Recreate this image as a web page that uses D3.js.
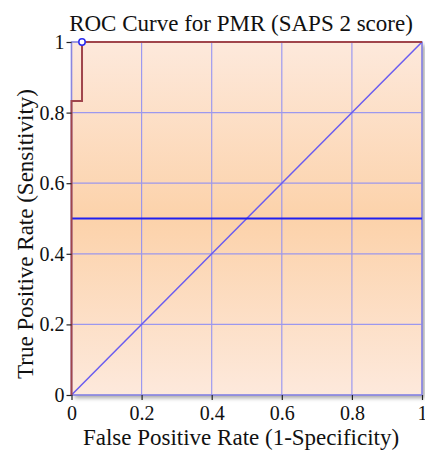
<!DOCTYPE html>
<html>
<head>
<meta charset="utf-8">
<script src="https://cdn.jsdelivr.net/npm/d3@7"></script>
<style>
  html, body { margin: 0; padding: 0; background: #fff; }
  svg { display: block; font-family: "Liberation Serif", "DejaVu Serif", serif; }
</style>
</head>
<body>
<svg id="chart" width="425" height="452"></svg>
<script>
// ROC curve points (false positive rate, true positive rate)
const fpr = [0, 0, 0.03, 0.03, 1];
const tpr = [0, 0.833, 0.833, 1, 1];
// Chance diagonal and cut-off reference line
const diagX = [0, 1];
const diagY = [0, 1];
const refLevel = 0.5;
const tickValues = [0, 0.2, 0.4, 0.6, 0.8, 1];
const tickLabels = ["0", "0.2", "0.4", "0.6", "0.8", "1"];

const svg = d3.select("#chart");
const m = { left: 71.5, right: 3, top: 42, bottom: 57 };
const W = 425, H = 452;
const x = d3.scaleLinear().domain([0, 1]).range([m.left, W - m.right]);
const y = d3.scaleLinear().domain([0, 1]).range([H - m.bottom, m.top]);

const defs = svg.append("defs");
const grad = defs.append("linearGradient").attr("id", "bg").attr("x1", 0).attr("y1", 0).attr("x2", 0).attr("y2", 1);
grad.append("stop").attr("offset", "0%").attr("stop-color", "#fde9dc");
grad.append("stop").attr("offset", "50%").attr("stop-color", "#fcd2aa");
grad.append("stop").attr("offset", "100%").attr("stop-color", "#fde9dc");
const sh = defs.append("filter").attr("id", "shadow").attr("x", "-5%").attr("y", "-5%").attr("width", "115%").attr("height", "115%");
sh.append("feGaussianBlur").attr("in", "SourceAlpha").attr("stdDeviation", 2);

const x0 = x(0), x1 = x(1), y0 = y(0), y1 = y(1);

// drop shadow of plot panel
svg.append("rect").attr("x", x0 + 3).attr("y", y1 + 3).attr("width", x1 - x0).attr("height", y0 - y1)
  .attr("fill", "#000").attr("opacity", 0.35).attr("filter", "url(#shadow)");
// plot panel
svg.append("rect").attr("x", x0).attr("y", y1).attr("width", x1 - x0).attr("height", y0 - y1)
  .attr("fill", "url(#bg)");

// grid
const grid = svg.append("g").attr("stroke", "#8c8cf5").attr("stroke-width", 1.2).attr("opacity", 0.85);
tickValues.forEach(v => {
  grid.append("line").attr("x1", x(v)).attr("x2", x(v)).attr("y1", y1).attr("y2", y0);
  grid.append("line").attr("x1", x0).attr("x2", x1).attr("y1", y(v)).attr("y2", y(v));
});

// panel border
svg.append("rect").attr("x", x0).attr("y", y1).attr("width", x1 - x0).attr("height", y0 - y1)
  .attr("fill", "none").attr("stroke", "#8a86e0").attr("stroke-width", 1.5);

// diagonal
const line = d3.line().x(d => x(d[0])).y(d => y(d[1]));
svg.append("path").datum(d3.zip(diagX, diagY)).attr("d", line)
  .attr("fill", "none").attr("stroke", "#6a5cf0").attr("stroke-width", 1.5);

// reference level
svg.append("line").attr("x1", x0).attr("x2", x1).attr("y1", y(refLevel)).attr("y2", y(refLevel))
  .attr("stroke", "#2020f0").attr("stroke-width", 2);

// ROC curve
svg.append("path").datum(d3.zip(fpr, tpr)).attr("d", line)
  .attr("fill", "none").attr("stroke", "#a0454c").attr("stroke-width", 2);

// marker at the best cut-off point
svg.append("circle").attr("cx", x(fpr[3])).attr("cy", y(tpr[3])).attr("r", 3.2)
  .attr("fill", "#fff").attr("stroke", "#2a2af0").attr("stroke-width", 1.5);

// axes
const xAxis = d3.axisBottom(x).tickValues(tickValues).tickFormat((d, i) => tickLabels[i]).tickSize(5).tickPadding(6);
const yAxis = d3.axisLeft(y).tickValues(tickValues).tickFormat((d, i) => tickLabels[i]).tickSize(5).tickPadding(2);
const gx = svg.append("g").attr("transform", `translate(0,${y0})`).call(xAxis);
const gy = svg.append("g").attr("transform", `translate(${x0},0)`).call(yAxis);
[gx, gy].forEach(g => {
  g.select(".domain").remove();
  g.selectAll(".tick line").attr("stroke", "#222").attr("stroke-width", 1.2);
  g.selectAll(".tick text").attr("fill", "#111").style("font-size", "20px")
    .style("font-family", "'Liberation Serif', serif");
});

// titles
svg.append("text").attr("x", 241).attr("y", 31).attr("text-anchor", "middle")
  .style("font-size", "23px").attr("fill", "#111").text("ROC Curve for PMR (SAPS 2 score)");
svg.append("text").attr("x", 241).attr("y", 445).attr("text-anchor", "middle")
  .style("font-size", "23px").attr("fill", "#111").text("False Positive Rate (1-Specificity)");
svg.append("text").attr("transform", `translate(33,234) rotate(-90)`).attr("text-anchor", "middle")
  .style("font-size", "23px").attr("fill", "#111").text("True Positive Rate (Sensitivity)");
</script>
</body>
</html>
